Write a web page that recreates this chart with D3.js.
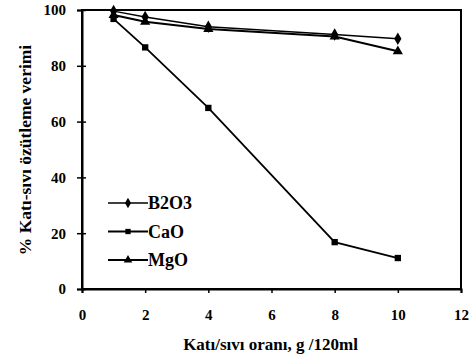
<!DOCTYPE html>
<html>
<head>
<meta charset="utf-8">
<script src="https://cdn.jsdelivr.net/npm/d3@7"></script>
<style>
body { margin: 0; background: #fff; }
svg text { font-family: "Liberation Serif" !important; font-weight: bold; fill: #000; }
</style>
</head>
<body>
<script>
// data
var ratios = [1, 2, 4, 8, 10];
var b2o3 = [99.6, 97.5, 94, 91.2, 89.7];
var cao = [96.8, 86.6, 64.9, 16.8, 11.1];
var mgo = [98.2, 95.8, 93.2, 90.5, 85.2];
var seriesNames = ["B2O3", "CaO", "MgO"];
var xTicks = [0, 2, 4, 6, 8, 10, 12];
var yTicks = [0, 20, 40, 60, 80, 100];

var margin = {top: 10, right: 15, bottom: 75, left: 82},
	width = 476 - margin.left - margin.right,
	height = 364 - margin.top - margin.bottom;

var x = d3.scaleLinear().domain([0, 12]).range([0, width]);
var y = d3.scaleLinear().domain([0, 100]).range([height, 0]);

var svg = d3.select("body").append("svg")
	.attr("width", 476)
	.attr("height", 364)
	.append("g")
	.attr("transform", "translate(" + margin.left + "," + margin.top + ")");

// frame
svg.append("rect")
	.attr("width", width)
	.attr("height", height)
	.attr("fill", "none")
	.attr("stroke", "#000")
	.attr("stroke-width", 2);

// axes
var xAxis = svg.append("g")
	.attr("transform", "translate(0," + height + ")")
	.call(d3.axisBottom(x).tickValues(xTicks).tickSize(4).tickPadding(16));
var yAxis = svg.append("g")
	.call(d3.axisLeft(y).tickValues(yTicks).tickSize(5).tickPadding(11));

[xAxis, yAxis].forEach(function(a) {
	a.attr("font-size", 15);
	a.select(".domain").attr("stroke-width", 2);
	a.selectAll(".tick line").attr("stroke-width", 1.5);
});
// y ticks cross the axis a little
yAxis.selectAll(".tick line").attr("x1", 4);

// lines and markers
var line = d3.line()
	.x(function(d) { return x(d[0]); })
	.y(function(d) { return y(d[1]); });

var series = [b2o3, cao, mgo].map(function(vals, i) {
	return { name: seriesNames[i], pts: ratios.map(function(r, j) { return [r, vals[j]]; }) };
});
var symbols = [d3.symbolDiamond, d3.symbolSquare, d3.symbolTriangle];
var symSize = [45, 40, 45];
var lineW = [1.5, 1.8, 2];

series.forEach(function(s, i) {
	svg.append("path")
		.datum(s.pts)
		.attr("fill", "none")
		.attr("stroke", "#000")
		.attr("stroke-width", lineW[i])
		.attr("d", line);
	svg.selectAll(".m" + i)
		.data(s.pts)
		.enter().append("path")
		.attr("transform", function(d) { return "translate(" + x(d[0]) + "," + y(d[1]) + ")"; })
		.attr("d", d3.symbol().type(symbols[i]).size(symSize[i]));
});

// legend
var legend = svg.append("g").attr("transform", "translate(26,193)");
series.forEach(function(s, i) {
	var g = legend.append("g").attr("transform", "translate(0," + (i * 28.5) + ")");
	g.append("line").attr("x1", 0).attr("x2", 40)
		.attr("stroke", "#000").attr("stroke-width", lineW[i]);
	g.append("path").attr("transform", "translate(20,0)")
		.attr("d", d3.symbol().type(symbols[i]).size(symSize[i] * 0.7));
	g.append("text").attr("x", 40).attr("dy", "0.35em")
		.style("font-size", "18px").text(s.name);
});

// axis labels
svg.append("text")
	.attr("x", width / 2 - 1)
	.attr("y", height + 61)
	.attr("text-anchor", "middle")
	.style("font-size", "17px")
	.text("Katı/sıvı oranı, g /120ml");

svg.append("text")
	.attr("transform", "rotate(-90)")
	.attr("x", -140)
	.attr("y", -51)
	.attr("text-anchor", "middle")
	.style("font-size", "17.5px")
	.text("% Katı-sıvı özütleme verimi");
</script>
</body>
</html>
